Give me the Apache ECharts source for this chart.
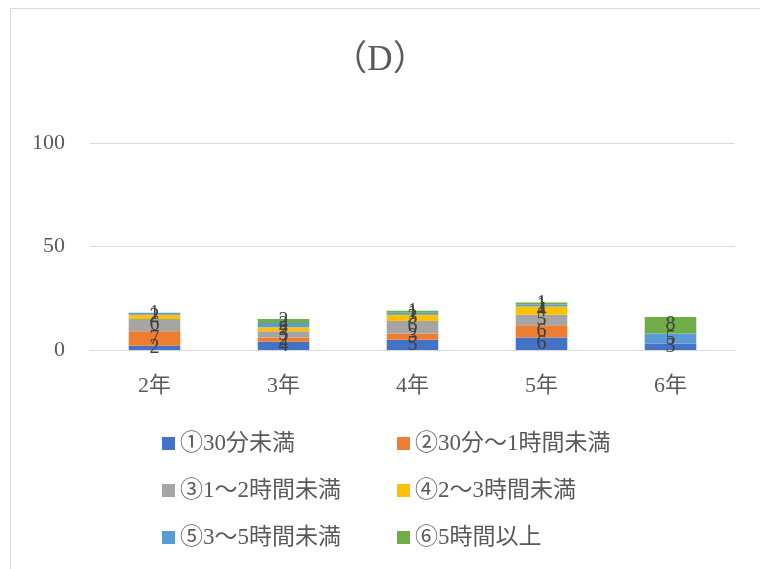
<!DOCTYPE html>
<html>
<head>
<meta charset="utf-8">
<script src="https://cdn.jsdelivr.net/npm/echarts@6/dist/echarts.min.js"></script>
<style>
  html, body { margin: 0; padding: 0; background: #fff; }
  #main { width: 760px; height: 569px; }
</style>
</head>
<body>
<div id="main"></div>
<script>
// 学年
const categories = ['2年', '3年', '4年', '5年', '6年']
const seriesNames = ['①30分未満', '②30分～1時間未満', '③1～2時間未満', '④2～3時間未満', '⑤3～5時間未満', '⑥5時間以上']
const s1 = [2, 4, 5, 6, 3]
const s2 = [7, 2, 3, 6, 0]
const s3 = [6, 3, 6, 5, 0]
const s4 = [2, 2, 3, 4, 0]
const s5 = [1, 2, 1, 1, 5]
const s6 = [0, 2, 1, 1, 8]
const yTicks = [0, 50, 100]

const colors = ['#4472c4', '#ed7d31', '#a5a5a5', '#ffc000', '#5b9bd5', '#70ad47']
const serif = '"Liberation Serif", "Noto Sans CJK JP", serif'

const chart = echarts.init(document.getElementById('main'))

const values = [s1, s2, s3, s4, s5, s6]
const series = seriesNames.map((name, i) => ({
  name,
  type: 'bar',
  stack: 'total',
  barWidth: '40%',
  data: values[i],
  itemStyle: { color: colors[i] },
  label: {
    show: true,
    position: 'inside',
    color: '#404040',
    fontFamily: serif,
    fontSize: 20,
    formatter: p => (p.value === 0 ? '' : p.value)
  }
}))

// 凡例は2列×3行
const legendPos = [
  [162, 432], [397, 432],
  [162, 479], [397, 479],
  [162, 526], [397, 526]
]
const legends = seriesNames.map((name, i) => ({
  data: [name],
  left: legendPos[i][0],
  top: legendPos[i][1],
  itemWidth: 13,
  itemHeight: 13,
  itemGap: 0,
  icon: 'rect',
  padding: 0,
  selectedMode: false,
  textStyle: { color: '#595959', fontSize: 23, fontFamily: serif, padding: [0, 0, 0, 0] }
}))

chart.setOption({
  animation: false,
  color: colors,
  title: {
    text: '（D）',
    left: 'center',
    top: 38,
    textStyle: { color: '#595959', fontSize: 35, fontWeight: 'normal', fontFamily: serif }
  },
  graphic: [{
    type: 'rect',
    shape: { x: 10.5, y: 8.5, width: 800, height: 600 },
    style: { fill: 'none', stroke: '#d9d9d9', lineWidth: 1 }
  }],
  legend: legends,
  grid: { left: 90, right: 25, top: 143, height: 207 },
  xAxis: {
    type: 'category',
    data: categories,
    axisTick: { show: false },
    axisLine: { lineStyle: { color: '#d9d9d9' } },
    axisLabel: { color: '#595959', fontSize: 22, fontFamily: serif, margin: 25 }
  },
  yAxis: {
    type: 'value',
    min: yTicks[0],
    max: yTicks[yTicks.length - 1],
    interval: 50,
    axisLine: { show: false },
    axisTick: { show: false },
    splitLine: { lineStyle: { color: '#d9d9d9' } },
    axisLabel: { color: '#595959', fontSize: 22, fontFamily: serif, margin: 25 }
  },
  series
})
</script>
</body>
</html>
